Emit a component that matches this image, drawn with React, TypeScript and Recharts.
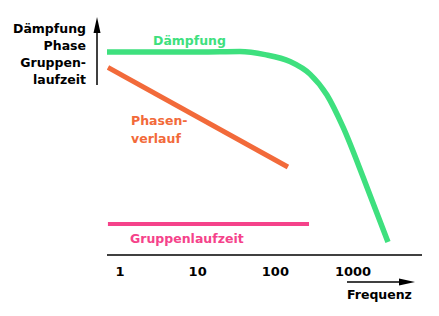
import { LineChart, Line, XAxis, YAxis } from "recharts"

// Dämpfung (attenuation) curve
const daempfungFreq = [0.68, 10.7, 35, 73.5, 154, 279, 461, 741, 1422, 2813]
const daempfungWert = [85.3, 85.3, 85.5, 84.2, 81.3, 76.0, 67.2, 53.8, 30.7, 5.5]

// Phasenverlauf (straight line on log axis)
const phaseFreq = [0.7, 145]
const phaseWert = [78.8, 37.0]

// Gruppenlaufzeit (constant)
const gruppenFreq = [0.7, 271]
const gruppenWert = [13, 13]

const xTicks = [1, 10, 100, 1000]

const toRows = (f: number[], v: number[]) => f.map((x, i) => ({ f: x, v: v[i] }))

const font = "'DejaVu Sans', sans-serif"
const green = "#3ee07e"
const orange = "#f26a3a"
const pink = "#f5428a"

export default function App() {
  const daempfung = toRows(daempfungFreq, daempfungWert)
  const phase = toRows(phaseFreq, phaseWert)
  const gruppen = toRows(gruppenFreq, gruppenWert)

  return (
    <div style={{ position: "absolute", left: 0, top: 0, width: 439, height: 316, background: "#fff" }}>
      <LineChart width={439} height={316} margin={{ top: 17, right: 17, bottom: 31, left: 107 }}>
        <XAxis
          dataKey="f"
          type="number"
          scale="log"
          domain={[0.681, 7709]}
          allowDataOverflow
          ticks={xTicks}
          height={30}
          tickLine={false}
          tickMargin={6}
          axisLine={{ stroke: "#000", strokeWidth: 1.5 }}
          tick={{ fill: "#000", fontSize: 13, fontWeight: "bold", fontFamily: font }}
        />
        <YAxis
          type="number"
          domain={[0, 100]}
          width={0}
          tick={false}
          tickLine={false}
          axisLine={{ stroke: "#000", strokeWidth: 1.5 }}
        />
        <Line data={gruppen} dataKey="v" stroke={pink} strokeWidth={4} dot={false} isAnimationActive={false} />
        <Line data={phase} dataKey="v" stroke={orange} strokeWidth={5} dot={false} isAnimationActive={false} />
        <Line data={daempfung} dataKey="v" type="monotone" stroke={green} strokeWidth={5.5} dot={false} isAnimationActive={false} />
      </LineChart>
      <svg
        width={439}
        height={316}
        style={{ position: "absolute", left: 0, top: 0, pointerEvents: "none" }}
        fontFamily={font}
        fontWeight="bold"
        fontSize={12.5}
      >
        <g textAnchor="end" fill="#000">
          <text x={86} y={32.5}>Dämpfung</text>
          <text x={86} y={49.5}>Phase</text>
          <text x={86} y={66.5}>Gruppen-</text>
          <text x={86} y={83.5}>laufzeit</text>
        </g>
        <line x1={97} y1={30} x2={97} y2={85} stroke="#000" strokeWidth={1.5} />
        <polygon points="97,17 93.5,33 100.5,33" fill="#000" />
        <line x1={347} y1={282} x2={402} y2={282} stroke="#000" strokeWidth={1.5} />
        <polygon points="415,282 399,278.5 399,285.5" fill="#000" />
        <text x={347} y={298.5} fill="#000">Frequenz</text>
        <text x={153} y={44.5} fill={green}>Dämpfung</text>
        <text x={131} y={124.5} fill={orange}>Phasen-</text>
        <text x={131} y={142.5} fill={orange}>verlauf</text>
        <text x={130} y={242.5} fill={pink}>Gruppenlaufzeit</text>
      </svg>
    </div>
  )
}
